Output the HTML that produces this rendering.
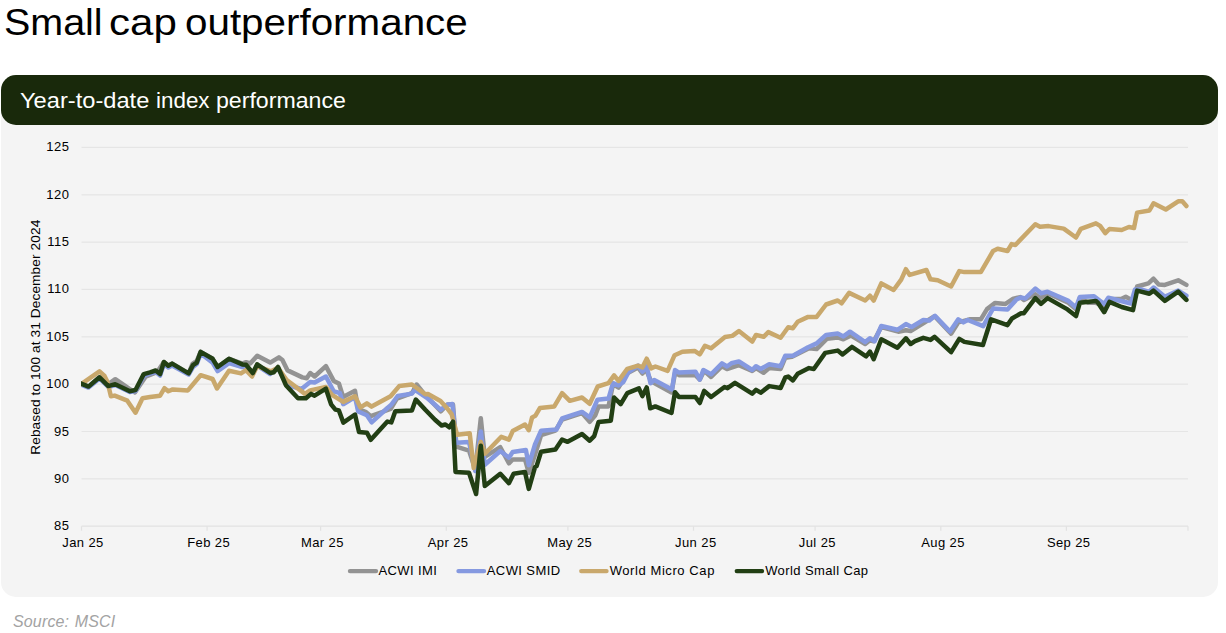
<!DOCTYPE html>
<html><head><meta charset="utf-8">
<style>
html,body{margin:0;padding:0;background:#fff;width:1226px;height:633px;overflow:hidden;position:relative;font-family:"Liberation Sans",sans-serif;}
.t{position:absolute;white-space:nowrap;line-height:1;}
/* title */ .ti{top:4px;font-size:37px;transform-origin:0 0;color:#000;}
#hdr{position:absolute;left:1px;top:75px;width:1217px;height:50.4px;background:#19290b;border-radius:15px;}
#panel{position:absolute;left:0.6px;top:100px;width:1217.7px;height:497.4px;background:#f4f4f4;border-radius:0 0 15px 15px;}
.hd{top:90.7px;font-size:21.5px;transform-origin:0 0;color:#fff;}
#src{left:13px;top:614px;font-size:16px;letter-spacing:0.15px;word-spacing:1px;color:#a3a3a3;font-style:italic;}
svg{position:absolute;left:0;top:0;}
</style></head><body>
<div id="panel"></div>
<div id="hdr"></div>
<div class="t ti" style="left:3.97px;transform:scaleX(1.066)">Small</div><div class="t ti" style="left:108.6px;transform:scaleX(1.136)">cap</div><div class="t ti" style="left:184.5px;transform:scaleX(1.091)">outperformance</div>
<div class="t hd" style="left:20.0px;transform:scaleX(1.1)">Year-to-date</div><div class="t hd" style="left:155.96px;transform:scaleX(1.042)">index</div><div class="t hd" style="left:215.8px;transform:scaleX(1.076)">performance</div>
<div class="t" id="src">Source: MSCI</div>
<svg width="1226" height="633" viewBox="0 0 1226 633" font-family="Liberation Sans" font-size="13" fill="#000">
<g stroke="#e5e5e5" stroke-width="1.2" fill="none">
<line x1="81.5" y1="478.9" x2="1188.0" y2="478.9"/><line x1="81.5" y1="431.5" x2="1188.0" y2="431.5"/><line x1="81.5" y1="384.2" x2="1188.0" y2="384.2"/><line x1="81.5" y1="336.8" x2="1188.0" y2="336.8"/><line x1="81.5" y1="289.4" x2="1188.0" y2="289.4"/><line x1="81.5" y1="242.1" x2="1188.0" y2="242.1"/><line x1="81.5" y1="194.8" x2="1188.0" y2="194.8"/><line x1="81.5" y1="147.4" x2="1188.0" y2="147.4"/>
</g>
<g stroke="#e2e2e2" stroke-width="1.2" fill="none">
<line x1="81.5" y1="526.2" x2="1188.0" y2="526.2"/>
<line x1="81.5" y1="526.2" x2="81.5" y2="530.7"/><line x1="207.1" y1="526.2" x2="207.1" y2="530.7"/><line x1="320.6" y1="526.2" x2="320.6" y2="530.7"/><line x1="446.3" y1="526.2" x2="446.3" y2="530.7"/><line x1="567.9" y1="526.2" x2="567.9" y2="530.7"/><line x1="693.5" y1="526.2" x2="693.5" y2="530.7"/><line x1="815.1" y1="526.2" x2="815.1" y2="530.7"/><line x1="940.8" y1="526.2" x2="940.8" y2="530.7"/><line x1="1066.4" y1="526.2" x2="1066.4" y2="530.7"/><line x1="1188.0" y1="526.2" x2="1188.0" y2="530.7"/>
</g>
<g><text x="69.4" y="530.2" text-anchor="end" letter-spacing="0.5">85</text><text x="69.4" y="482.9" text-anchor="end" letter-spacing="0.5">90</text><text x="69.4" y="435.5" text-anchor="end" letter-spacing="0.5">95</text><text x="69.4" y="388.2" text-anchor="end" letter-spacing="0.5">100</text><text x="69.4" y="340.8" text-anchor="end" letter-spacing="0.5">105</text><text x="69.4" y="293.4" text-anchor="end" letter-spacing="0.5">110</text><text x="69.4" y="246.1" text-anchor="end" letter-spacing="0.5">115</text><text x="69.4" y="198.8" text-anchor="end" letter-spacing="0.5">120</text><text x="69.4" y="151.4" text-anchor="end" letter-spacing="0.5">125</text></g>
<g><text x="83.0" y="546.9" text-anchor="middle" letter-spacing="0.4">Jan 25</text><text x="208.6" y="546.9" text-anchor="middle" letter-spacing="0.4">Feb 25</text><text x="322.4" y="546.9" text-anchor="middle" letter-spacing="0.4">Mar 25</text><text x="448.1" y="546.9" text-anchor="middle" letter-spacing="0.4">Apr 25</text><text x="569.7" y="546.9" text-anchor="middle" letter-spacing="0.4">May 25</text><text x="695.8" y="546.9" text-anchor="middle" letter-spacing="0.4">Jun 25</text><text x="817.4" y="546.9" text-anchor="middle" letter-spacing="0.4">Jul 25</text><text x="943.1" y="546.9" text-anchor="middle" letter-spacing="0.4">Aug 25</text><text x="1068.7" y="546.9" text-anchor="middle" letter-spacing="0.4">Sep 25</text></g>
<text transform="translate(40.0,337.2) rotate(-90)" text-anchor="middle" font-size="13.7" letter-spacing="0.09">Rebased to 100 at 31 December 2024</text>
<defs><clipPath id="pc"><rect x="81" y="100" width="1140" height="440"/></clipPath></defs>
<g fill="none" stroke-width="4.5" stroke-linejoin="round" stroke-linecap="round" clip-path="url(#pc)">
<polyline stroke="#939393" points="80.5,383.4 88.5,386.6 99.5,377.3 108.3,384.0 115.3,379.2 134.9,392.5 145.6,376.7 157.0,372.2 163.9,362.0 168.3,365.8 172.1,363.6 188.6,373.4 192.5,363.8 196.8,360.8 200.6,351.9 212.6,358.8 217.6,367.0 229.0,358.8 242.3,363.6 246.0,362.2 250.2,363.5 257.2,355.7 270.2,362.6 278.9,357.4 282.4,360.0 287.6,370.4 302.4,377.4 306.7,378.3 310.2,373.0 314.6,376.5 325.9,366.1 333.7,380.9 338.9,383.5 343.2,397.1 355.0,390.8 358.2,409.0 366.1,412.1 370.8,416.1 390.6,409.0 396.9,398.7 411.9,393.2 416.6,384.5 423.7,393.2 440.7,411.3 447.3,404.6 453.0,404.6 456.3,446.6 469.0,450.6 475.3,469.5 480.8,418.2 484.8,456.9 500.3,447.2 508.9,463.3 512.7,459.5 525.0,459.5 528.8,472.8 535.0,454.8 541.1,435.1 555.4,430.7 562.1,419.6 582.0,413.0 589.7,421.9 595.3,415.2 598.6,406.4 608.5,406.4 613.0,384.2 618.5,387.6 627.3,373.2 638.0,367.4 642.4,373.5 645.9,369.1 651.1,381.3 671.5,392.5 675.4,370.9 678.9,375.2 695.4,375.2 699.8,379.6 704.1,370.9 711.1,377.0 722.0,366.2 727.0,369.0 738.9,365.2 752.2,370.9 756.0,368.1 763.6,372.8 769.2,368.1 780.6,369.0 785.3,357.7 792.0,356.7 809.0,348.2 816.6,349.1 827.0,338.7 837.7,337.4 843.4,339.3 851.0,335.5 865.2,344.0 869.9,340.2 873.7,341.2 881.3,327.0 898.3,331.7 905.9,330.3 910.6,331.0 924.4,322.5 934.6,316.2 951.1,333.7 958.3,322.4 969.5,319.3 980.8,319.3 987.0,309.1 995.2,302.9 1005.5,303.9 1012.6,299.0 1020.2,297.1 1023.9,300.0 1035.3,294.3 1040.0,298.1 1047.6,293.3 1068.4,302.8 1076.0,309.4 1079.8,298.1 1088.3,302.8 1095.9,302.8 1104.2,306.0 1108.3,299.0 1121.7,298.8 1125.8,296.8 1133.0,300.9 1137.1,286.5 1148.4,283.4 1153.5,278.7 1158.7,284.5 1164.8,284.9 1178.2,280.3 1186.4,284.9"/>
<polyline stroke="#8599e0" points="80.5,384.4 88.5,387.6 99.5,378.5 108.3,387.0 115.3,385.0 129.8,392.0 135.5,391.0 143.7,376.0 150.0,373.5 155.7,372.0 160.1,375.5 163.9,364.0 168.3,367.5 172.1,365.5 188.6,374.5 193.0,367.0 196.8,364.0 200.6,353.5 212.6,362.6 217.6,371.1 229.0,363.1 242.3,367.0 246.0,366.0 252.8,374.0 257.2,365.5 270.2,374.0 278.0,368.0 287.0,385.0 301.5,389.0 310.2,382.0 314.6,382.6 325.9,376.5 333.7,391.3 339.8,393.0 343.2,404.2 355.0,397.1 358.2,411.5 366.9,415.3 371.6,422.3 387.4,408.0 391.0,405.0 397.7,396.0 411.9,393.6 415.0,389.8 426.9,397.8 440.7,409.8 447.3,404.8 452.4,404.0 456.3,442.7 469.0,441.9 475.3,471.1 480.8,431.6 484.8,464.8 500.3,451.0 508.9,457.7 512.7,452.0 525.9,450.1 528.8,465.2 535.0,444.4 541.1,430.7 556.5,429.6 562.1,418.5 582.0,411.9 589.7,417.4 597.5,399.7 608.5,398.6 613.0,383.1 618.5,385.4 623.2,382.1 628.5,372.1 638.0,365.7 642.4,371.7 646.7,366.5 650.5,383.2 654.2,380.0 672.0,389.5 675.0,370.0 678.9,372.6 695.4,371.7 699.8,379.6 703.3,370.0 711.1,374.3 722.0,363.4 727.0,366.5 731.4,363.3 738.9,361.4 752.2,370.0 756.0,366.2 760.7,369.0 769.2,364.3 780.6,366.2 785.3,355.8 792.9,355.8 808.1,347.2 816.6,343.4 826.1,334.9 837.7,333.6 843.4,336.4 850.0,331.7 865.2,342.1 869.9,338.3 874.7,341.2 881.3,326.0 897.4,329.8 905.9,324.1 911.6,327.0 923.3,320.0 929.3,320.6 935.0,315.8 950.0,331.5 958.3,319.3 963.4,322.4 967.7,320.0 983.2,326.2 993.1,308.5 1007.5,309.6 1016.4,299.6 1020.8,297.4 1025.2,298.5 1035.3,288.6 1041.0,293.3 1047.6,291.8 1068.4,300.9 1076.0,307.5 1079.8,297.1 1094.0,296.2 1104.2,304.0 1108.3,297.8 1130.9,303.5 1135.0,289.5 1141.0,289.5 1149.0,292.0 1153.7,287.5 1164.8,296.8 1178.2,290.6 1186.4,295.7"/>
<polyline stroke="#c9a86c" points="80.5,384.6 99.5,371.3 104.5,376.0 107.5,382.0 110.9,396.3 114.7,395.6 127.3,400.7 135.5,412.7 142.5,398.2 150.0,397.0 160.1,395.7 164.5,388.2 168.3,391.3 172.8,389.4 187.9,390.4 200.6,375.2 212.6,379.0 217.0,388.5 229.0,370.8 241.0,373.4 246.0,370.2 252.0,376.5 257.2,366.1 271.0,371.3 278.0,367.8 286.7,380.0 305.0,393.9 310.2,390.4 325.9,387.0 332.0,394.8 343.2,401.9 355.0,396.3 360.5,407.4 366.9,403.4 371.6,406.6 390.6,396.3 399.2,386.1 411.9,384.5 425.3,394.3 428.0,394.0 440.5,401.0 447.3,408.5 451.6,414.2 457.1,434.8 469.7,433.2 473.7,467.9 480.8,441.9 484.8,453.7 501.3,436.8 508.9,439.7 512.7,431.1 525.0,424.5 528.8,430.2 532.1,417.4 535.3,415.8 540.0,407.9 554.3,406.4 562.1,393.1 569.8,400.8 582.0,397.5 589.7,403.8 597.7,386.5 608.5,383.1 614.1,375.4 618.5,380.9 627.3,368.8 638.0,365.7 642.4,367.4 646.7,358.7 651.1,368.3 655.4,366.5 667.6,370.9 674.6,355.2 682.4,351.7 694.6,350.9 699.8,354.3 705.0,345.7 711.1,348.3 725.0,337.0 732.3,335.9 738.9,331.1 752.2,341.6 756.0,334.9 763.6,336.8 768.3,332.1 780.6,337.8 788.2,327.3 792.9,328.3 797.7,321.7 808.1,316.9 816.6,316.9 826.1,304.5 837.7,300.5 841.5,303.3 849.1,292.9 865.2,300.5 869.9,295.7 873.7,300.5 881.3,283.4 893.6,290.0 901.2,279.6 905.9,269.2 909.7,274.9 926.4,270.0 930.5,279.3 937.7,280.3 951.1,286.5 959.3,271.1 964.4,272.1 980.8,272.1 993.1,251.0 997.6,248.8 1007.5,251.0 1011.6,244.1 1015.4,245.0 1035.3,224.2 1040.0,226.7 1048.6,226.1 1063.7,228.6 1076.0,237.5 1080.8,228.9 1095.9,223.3 1100.1,225.9 1105.3,233.1 1109.4,229.0 1121.7,230.0 1128.9,227.0 1134.0,228.0 1137.1,212.6 1149.4,210.5 1153.5,203.3 1165.8,209.5 1178.2,201.3 1182.3,201.3 1186.4,206.0"/>
<polyline stroke="#223f14" points="80.5,383.4 88.5,386.6 99.5,377.3 108.3,386.1 115.3,384.2 129.8,391.2 135.5,390.0 143.7,374.1 150.0,372.4 155.7,370.5 160.1,374.0 163.9,362.0 168.3,365.8 172.1,363.6 188.6,373.4 193.0,365.1 196.8,362.6 200.6,351.9 212.6,358.8 217.6,367.0 229.0,358.8 242.3,364.4 246.0,364.8 252.8,373.0 257.2,364.3 270.2,373.0 273.7,372.2 278.0,367.0 285.9,385.2 298.0,398.3 305.9,398.3 311.1,393.9 314.6,395.7 325.9,388.7 331.1,404.3 335.4,409.6 338.9,410.4 343.3,422.6 355.0,414.5 359.0,431.9 366.9,432.7 370.8,439.8 387.4,421.6 391.3,422.4 395.3,411.3 411.9,410.6 415.8,399.5 425.3,409.8 435.0,419.8 441.6,425.5 445.4,424.5 449.2,427.3 453.0,421.7 455.5,471.9 469.0,472.7 476.1,494.0 480.8,445.8 484.8,486.1 500.3,473.8 508.9,483.2 513.6,473.8 525.0,471.9 528.8,488.9 535.0,467.1 536.6,466.1 541.1,451.7 555.4,449.5 562.1,439.6 567.6,441.8 582.0,434.0 589.7,440.7 594.2,436.2 598.6,421.9 610.8,420.8 614.1,397.5 620.7,404.2 627.3,393.1 638.9,388.3 642.4,396.1 646.7,387.4 650.2,408.3 655.3,406.4 671.5,413.0 675.0,392.2 678.9,397.0 695.4,397.0 699.8,403.0 704.1,390.9 711.1,397.0 724.5,387.0 727.5,388.2 735.0,382.8 752.2,393.6 756.0,389.8 760.7,392.7 769.2,386.1 780.6,388.0 785.3,377.5 788.2,376.6 792.9,380.4 797.7,373.8 809.0,368.1 813.8,369.0 825.2,352.9 837.7,350.6 842.5,354.4 851.9,346.9 866.1,356.3 869.9,351.6 873.7,359.2 881.3,339.3 897.4,347.8 905.9,338.3 910.6,344.0 915.0,341.2 923.3,337.8 930.5,339.9 934.6,336.8 951.1,352.2 959.3,338.8 964.4,341.9 982.9,345.0 991.1,319.3 1007.5,325.1 1012.0,318.5 1021.1,313.2 1023.9,313.2 1035.3,298.1 1041.0,303.8 1047.6,298.1 1067.5,309.4 1076.0,316.1 1079.8,302.8 1095.9,300.9 1098.1,302.9 1104.2,312.2 1109.4,301.9 1121.7,307.0 1133.0,310.1 1137.1,290.6 1149.4,293.7 1153.5,290.6 1164.8,300.9 1178.2,291.6 1186.4,299.9"/>
</g>
<g stroke-width="4.4" stroke-linecap="round">
<line x1="350" y1="571.1" x2="376" y2="571.1" stroke="#939393"/>
<line x1="458.5" y1="571.1" x2="484" y2="571.1" stroke="#8599e0"/>
<line x1="581.3" y1="571.1" x2="606.5" y2="571.1" stroke="#c9a86c"/>
<line x1="736.8" y1="571.1" x2="762" y2="571.1" stroke="#223f14"/>
</g>
<g font-size="13" letter-spacing="0.4">
<text x="378.5" y="574.8">ACWI IMI</text>
<text x="486.8" y="574.8">ACWI SMID</text>
<text x="609.7" y="574.8" letter-spacing="0.58">World Micro Cap</text>
<text x="765.2" y="574.8">World Small Cap</text>
</g>
</svg>
</body></html>
